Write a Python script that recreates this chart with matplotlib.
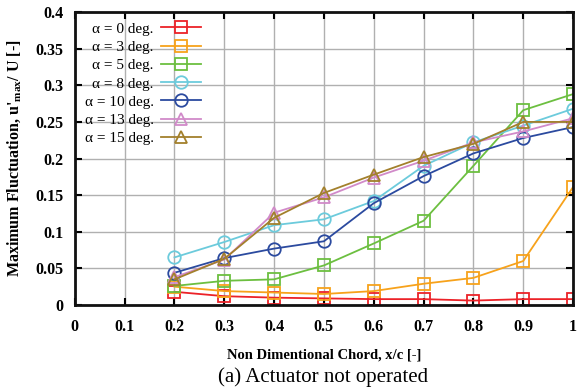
import numpy as np
import matplotlib
matplotlib.use('Agg')
import matplotlib.pyplot as plt
from matplotlib.ticker import FixedLocator, FuncFormatter

plt.rcParams['font.family'] = ['Liberation Serif', 'DejaVu Serif']
plt.rcParams['mathtext.fontset'] = 'custom'
plt.rcParams['mathtext.rm'] = 'Liberation Serif'
plt.rcParams['mathtext.bf'] = 'Liberation Serif:bold'

# chord positions
x = [0.2, 0.3, 0.4, 0.5, 0.6, 0.7, 0.8, 0.9, 1.0]

# max fluctuation per angle of attack
a0  = [0.018, 0.012, 0.010, 0.009, 0.008, 0.008, 0.006, 0.008, 0.008]
a3  = [0.025, 0.019, 0.017, 0.015, 0.019, 0.029, 0.037, 0.060, 0.161]
a5  = [0.026, 0.033, 0.035, 0.054, 0.084, 0.115, 0.190, 0.266, 0.288]
a8  = [0.065, 0.086, 0.109, 0.117, 0.142, 0.190, 0.222, 0.245, 0.268]
a10 = [0.044, 0.064, 0.077, 0.087, 0.139, 0.176, 0.207, 0.228, 0.243]
a13 = [0.038, 0.062, 0.126, 0.147, 0.174, 0.197, 0.222, 0.237, 0.255]
a15 = [0.035, 0.063, 0.119, 0.153, 0.178, 0.202, 0.220, 0.250, 0.250]

series = [a0, a3, a5, a8, a10, a13, a15]
labels = ['\u03b1 = 0 deg.', '\u03b1 = 3 deg.', '\u03b1 = 5 deg.', '\u03b1 = 8 deg.',
          '\u03b1 = 10 deg.', '\u03b1 = 13 deg.', '\u03b1 = 15 deg.']
colors = ['#ec2228', '#f7a21b', '#6cbf40', '#6ccbdc', '#2b4a9f', '#d18ac9', '#a3802c']
markers = ['s', 's', 's', 'o', 'o', '^', '^']

fig = plt.figure(figsize=(5.8, 3.9), dpi=100)
ax = fig.add_axes([0.129, 0.218, 0.859, 0.751])

for y, lab, c, m in zip(series, labels, colors, markers):
    ax.plot(x, y, color=c, marker=m, markersize=9, mfc='none', mew=1.3, lw=1.3, label=lab)

ax.set_xlim(0, 1)
ax.set_ylim(0, 0.4)
ax.xaxis.set_major_locator(FixedLocator(np.round(np.arange(0, 1.01, 0.1), 2)))
ax.yaxis.set_major_locator(FixedLocator(np.round(np.arange(0, 0.401, 0.05), 2)))
ax.xaxis.set_major_formatter(FuncFormatter(lambda v, p: '%g' % v))
ax.yaxis.set_major_formatter(FuncFormatter(lambda v, p: '%g' % v))
ax.grid(True, color='#b0b0b0', lw=1)
ax.set_axisbelow(True)
ax.tick_params(direction='in', top=True, right=True, length=5, width=1.5, labelsize=11.5)
ax.tick_params(axis='x', pad=10)
ax.tick_params(axis='y', pad=8)
for lbl in ax.get_xticklabels() + ax.get_yticklabels():
    lbl.set_fontweight('bold')
for s in ax.spines.values():
    s.set_linewidth(2)
    s.set_color('#111111')

ax.set_xlabel('Non Dimentional Chord, x/c [-]', fontweight='bold', fontsize=10.5, labelpad=10)
ax.set_ylabel("Maximum Fluctuation, u'$_{\\mathbf{max}}$/ U [-]", fontweight='bold', fontsize=11.5, labelpad=8)

ax.legend(loc='upper left', bbox_to_anchor=(0.0, 1.0), frameon=False, markerfirst=False,
          fontsize=11, handlelength=2.6, labelspacing=0.3, borderaxespad=0.25, handletextpad=0.5)

fig.text(0.557, 0.02, '(a) Actuator not operated', ha='center', fontsize=15)

fig.savefig('out.png', dpi=100)
